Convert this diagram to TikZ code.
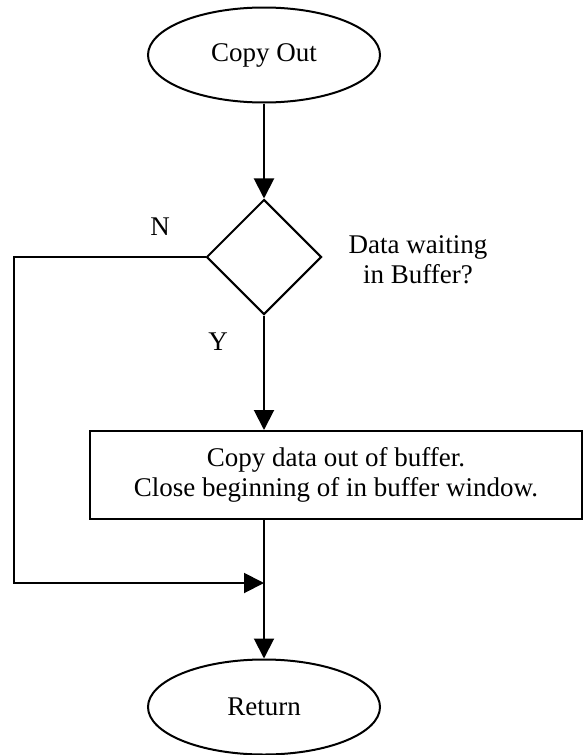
\documentclass[tikz,border=0pt]{standalone}
\usepackage{fontspec}
\setmainfont{Liberation Serif}
\usetikzlibrary{
  shapes.geometric,
  arrows.meta,
  calc
}

\begin{document}
\begin{tikzpicture}[
  x=1pt, y=1pt,
  font=\fontsize{13.5}{15}\selectfont,
  >={Triangle[length=10pt,width=10pt]},
  terminal/.style={
    ellipse,
    draw,
    line width=1pt,
    minimum width=116pt,
    minimum height=47.5pt,
    inner sep=0pt
  },
  decision/.style={
    diamond,
    draw,
    line width=1pt,
    minimum width=57.5pt,
    minimum height=57.5pt,
    inner sep=0pt
  },
  process/.style={
    rectangle,
    draw,
    line width=1pt,
    minimum width=246pt,
    minimum height=44pt,
    align=center
  },
  flow/.style={
    ->,
    line width=1pt
  },
  branchlabel/.style={
    inner sep=1pt
  }
]

\useasboundingbox (0,0) rectangle (291.5,-377.5);

% ------------------------------------------------------------------
% Column anchors
% ------------------------------------------------------------------
\coordinate (col) at (132,0);
\coordinate (bypass) at (7,0);

% ------------------------------------------------------------------
% Nodes
% ------------------------------------------------------------------
\node[terminal] (copyout) at ($(col)+(0,-27.5)$) {Copy Out};

\node[decision] (waiting) at ($(col)+(0,-128.5)$) {};
\node[align=center] (question) at (209,-130) {Data waiting\\ in Buffer?};
\node[branchlabel] (no) at (80,-113.5) {N};
\node[branchlabel] (yes) at (109,-171) {Y};

\node[process] (copydata) at (168,-237.5)
  {Copy data out of buffer.\\ Close beginning of in buffer window.};

\coordinate (merge) at ($(col)+(0,-291.5)$);
\node[terminal] (return) at ($(col)+(0,-353.5)$) {Return};

% ------------------------------------------------------------------
% Connectors
% ------------------------------------------------------------------
\draw[flow] (copyout) -- (waiting);
\draw[flow] (waiting.south) -- (waiting.south |- copydata.north);
\draw[flow] (col |- copydata.south) -- (return.north);

% N branch skips the copy step
\draw[flow] (waiting.west) -- (bypass |- waiting.west)
  -- (bypass |- merge) -- (merge);

\end{tikzpicture}
\end{document}
